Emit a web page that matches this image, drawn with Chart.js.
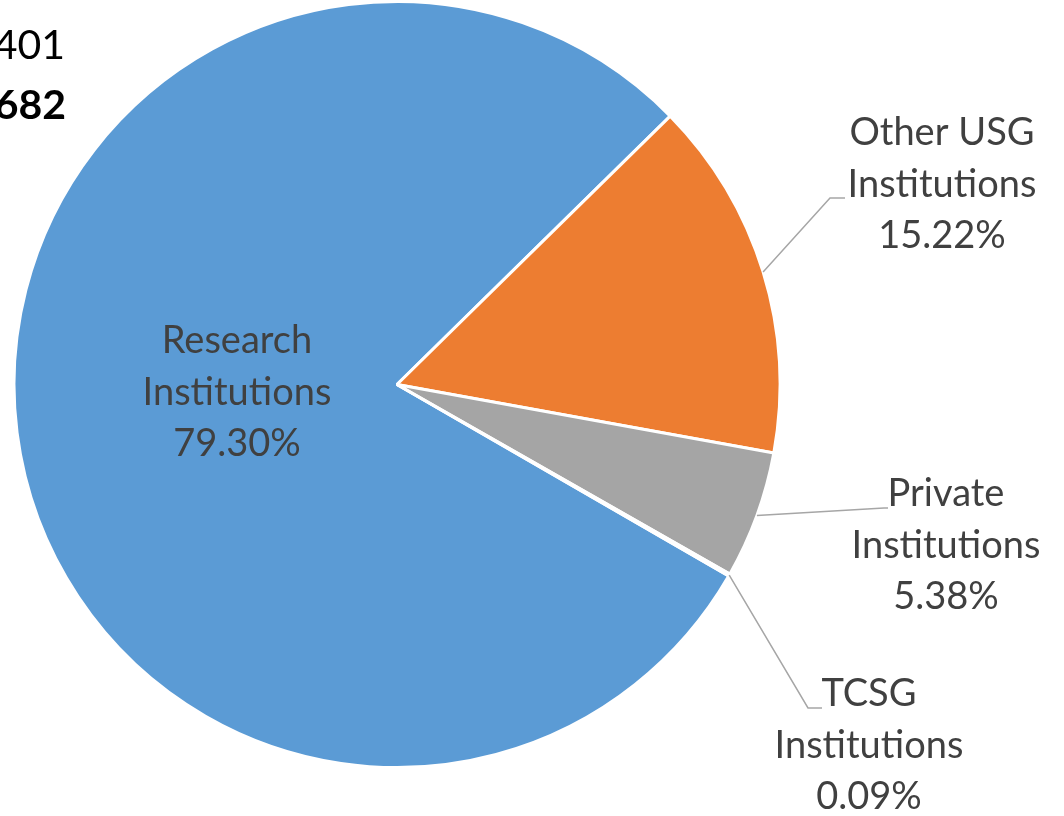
<!DOCTYPE html>
<html>
<head>
<meta charset="utf-8">
<script src="https://cdn.jsdelivr.net/npm/chart.js@4.4.0/dist/chart.umd.min.js"></script>
<style>
  html, body { margin: 0; padding: 0; background: #ffffff; }
  #wrap { width: 1064px; height: 816px; position: relative; }
</style>
</head>
<body>
<div id="wrap"><canvas id="PieChart" width="1064" height="816"></canvas></div>
<script>
// slice data
var categories = ["Research Institutions", "Other USG Institutions", "Private Institutions", "TCSG Institutions"];
var shares = [79.30, 15.22, 5.38, 0.09];
var sliceColors = ["#5b9bd5", "#ed7d31", "#a5a5a5", "#ffc000"];
// label text, split over lines like the original
var labelLines = [
    ["Research", "Institutions"],
    ["Other USG", "Institutions"],
    ["Private", "Institutions"],
    ["TCSG", "Institutions"]
];
// cut-off totals at the top left corner
var cornerTexts = ["401", "682"];

// label anchor (centre x, first line y) and leader elbow for each slice
var labelPos = [
    { x: 237, y: 341, inside: true },
    { x: 942, y: 133, elbow: [830, 198], end: [845, 198] },
    { x: 946, y: 494, elbow: [884, 508], end: [888, 508] },
    { x: 869, y: 694, elbow: [808, 708], end: [822, 708] }
];

var FONT = "38px Lato, 'Open Sans', sans-serif";
var CORNER_FONT = "41px Lato, 'Open Sans', sans-serif";

var labelPlugin = {
    id: "pieLabels",
    afterDraw: function (chart) {
        var ctx = chart.ctx;
        var meta = chart.getDatasetMeta(0);
        ctx.save();

        // leader lines
        ctx.strokeStyle = "#a6a6a6";
        ctx.lineWidth = 1.5;
        meta.data.forEach(function (arc, i) {
            var p = labelPos[i];
            if (p.inside) return;
            var mid = (arc.startAngle + arc.endAngle) / 2;
            var sx = arc.x + Math.cos(mid) * arc.outerRadius;
            var sy = arc.y + Math.sin(mid) * arc.outerRadius;
            ctx.beginPath();
            ctx.moveTo(sx, sy);
            ctx.lineTo(p.elbow[0], p.elbow[1]);
            ctx.lineTo(p.end[0], p.end[1]);
            ctx.stroke();
        });

        // label texts
        ctx.font = FONT;
        ctx.fillStyle = "#404040";
        ctx.textAlign = "center";
        ctx.textBaseline = "middle";
        categories.forEach(function (c, i) {
            var p = labelPos[i];
            var lines = labelLines[i].concat([shares[i].toFixed(2) + "%"]);
            lines.forEach(function (t, k) {
                ctx.fillText(t, p.x, p.y + k * 51.5);
            });
        });

        // corner totals, cut off by the left edge
        ctx.textAlign = "right";
        ctx.fillStyle = "#000000";
        ctx.font = CORNER_FONT;
        ctx.fillText(cornerTexts[0], 65, 46);
        ctx.font = "bold " + CORNER_FONT;
        ctx.fillText(cornerTexts[1], 66, 106);
        ctx.restore();
    }
};

new Chart("PieChart", {
    type: "pie",
    data: {
        labels: categories,
        datasets: [{
            data: shares,
            backgroundColor: sliceColors,
            borderColor: "#ffffff",
            borderWidth: 3
        }]
    },
    options: {
        responsive: false,
        animation: false,
        rotation: 120,
        layout: {
            padding: { left: 12, top: -1, right: 282, bottom: 47 }
        },
        plugins: {
            legend: { display: false },
            tooltip: { enabled: false }
        }
    },
    plugins: [labelPlugin]
});
</script>
</body>
</html>
